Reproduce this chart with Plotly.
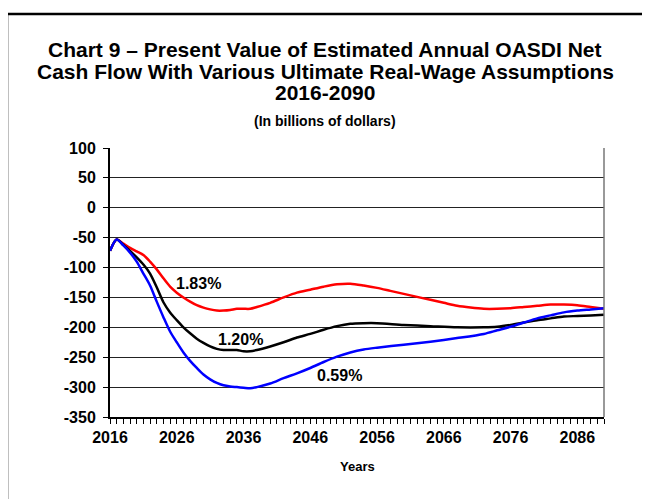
import plotly.graph_objects as go

years_red = [2016, 2017, 2018, 2019, 2020, 2021, 2022, 2023, 2024, 2025, 2026, 2027, 2028, 2029, 2030,
             2031, 2032, 2033, 2034, 2035, 2036, 2037, 2038, 2040, 2042, 2044, 2046, 2048, 2050, 2052,
             2054, 2056, 2058, 2060, 2062, 2064, 2066, 2068, 2070, 2072, 2074, 2076, 2078, 2080, 2082,
             2084, 2086, 2088, 2090]
red_183 = [-72, -53, -60, -67, -73, -79, -90, -103, -118, -132, -142, -150, -157, -163, -167,
           -170, -172, -172, -171, -169, -169, -169, -166, -159, -150, -142, -137, -132, -128, -127,
           -130, -134, -139, -144, -149, -154, -159, -164, -167, -169, -169, -168, -166, -164, -162,
           -162, -163, -166, -169]

years_blk = [2016, 2017, 2018, 2019, 2020, 2021, 2022, 2023, 2024, 2025, 2026, 2027, 2028, 2029, 2030,
             2031, 2032, 2033, 2034, 2035, 2036, 2037, 2038, 2040, 2042, 2044, 2046, 2048, 2050, 2052,
             2054, 2056, 2060, 2064, 2068, 2072, 2074, 2076, 2078, 2080, 2082, 2084, 2086, 2088, 2090]
black_120 = [-72, -53, -62, -72, -83, -95, -110, -133, -158, -175, -188, -200, -210, -219, -226,
             -232, -236, -238, -238, -238, -240, -240, -238, -232, -225, -217, -211, -204, -198, -194,
             -193, -193, -196, -198, -200, -200, -199, -196, -192, -188, -185, -182, -181, -180, -179]

years_blu = [2016, 2017, 2018, 2019, 2020, 2021, 2022, 2023, 2024, 2025, 2026, 2027, 2028, 2029, 2030,
             2031, 2032, 2033, 2034, 2035, 2036, 2037, 2038, 2040, 2042, 2044, 2046, 2048, 2050, 2052,
             2054, 2056, 2060, 2064, 2068, 2072, 2074, 2076, 2078, 2080, 2082, 2084, 2086, 2088, 2090]
blue_059 = [-72, -53, -63, -75, -90, -110, -130, -157, -183, -207, -225, -242, -256, -268, -279,
            -287, -293, -297, -299, -300, -301, -302, -300, -294, -285, -277, -268, -258, -249, -242,
            -237, -234, -229, -224, -218, -211, -205, -199, -192, -185, -180, -175, -172, -170, -168]

x_ticks = [2016, 2026, 2036, 2046, 2056, 2066, 2076, 2086]
y_ticks = [100, 50, 0, -50, -100, -150, -200, -250, -300, -350]

labels = ["1.83%", "1.20%", "0.59%"]
label_x = [2029.3, 2035.5, 2050.4]
label_y = [-126, -221, -281]

FONT = "Liberation Sans, Arial, sans-serif"
OFF = 8  # page body margin
W, H = 642, 491
L, T = 110 - OFF, 148 - OFF
pw, ph = 494, 269
R, B = W - L - pw, H - T - ph

def px(xp):
    return (xp - OFF - L) / pw

def py(yp):
    return (T + ph - (yp - OFF)) / ph

fig = go.Figure()
for xs, ys, c in [(years_red, red_183, "#FF0000"), (years_blk, black_120, "#000000"),
                  (years_blu, blue_059, "#0000FF")]:
    fig.add_trace(go.Scatter(x=xs, y=ys, mode="lines",
                             line=dict(color=c, width=2.5, shape="spline", smoothing=0.8),
                             showlegend=False, hoverinfo="skip"))

annotations = []
title_lines = [
    ("Chart 9 – Present Value of Estimated Annual OASDI Net", 49, 21),
    ("Cash Flow With Various Ultimate Real-Wage Assumptions", 71, 21),
    ("2016-2090", 93, 21),
    ("(In billions of dollars)", 121, 14),
]
for txt, yc, fs in title_lines:
    annotations.append(dict(text="<b>%s</b>" % txt, xref="paper", yref="paper",
                            x=px(325), y=py(yc), xanchor="center", yanchor="middle",
                            showarrow=False, font=dict(family=FONT, size=fs, color="#000")))
for t, lx, ly in zip(labels, label_x, label_y):
    annotations.append(dict(text="<b>%s</b>" % t, x=lx, y=ly, xref="x", yref="y",
                            showarrow=False, xanchor="center", yanchor="middle",
                            font=dict(family=FONT, size=16, color="#000")))
annotations.append(dict(text="<b>Years</b>", xref="paper", yref="paper", x=px(357), y=py(466),
                        xanchor="center", yanchor="middle", showarrow=False,
                        font=dict(family=FONT, size=13, color="#000")))

shapes = [
    dict(type="line", xref="paper", yref="paper", x0=px(7), x1=px(680), y0=py(14), y1=py(14),
         line=dict(color="#000", width=2.5)),
    dict(type="line", xref="paper", yref="paper", x0=px(7), x1=px(7), y0=py(14), y1=py(520),
         line=dict(color="#000", width=2.5)),
    dict(type="line", xref="paper", yref="paper", x0=1, x1=1, y0=0, y1=1,
         line=dict(color="#777", width=1.5)),
]

fig.update_layout(
    width=W, height=H, margin=dict(l=L, r=R, t=T, b=B),
    paper_bgcolor="white", plot_bgcolor="white",
    font=dict(family=FONT, color="#000"),
    annotations=annotations, shapes=shapes,
    xaxis=dict(range=[2016, 2090], tickvals=x_ticks, ticktext=[str(v) for v in x_ticks],
               ticks="outside", ticklen=5, tickwidth=1, tickcolor="#000",
               minor=dict(dtick=1, tick0=2016, ticks="outside", ticklen=5, tickwidth=1, tickcolor="#000"),
               showgrid=False, zeroline=False, showline=True, linecolor="#000", linewidth=2,
               tickfont=dict(family=FONT, size=16, color="#000", weight="bold")),
    yaxis=dict(range=[-350, 100], tickvals=y_ticks, ticktext=[str(v) for v in y_ticks],
               ticks="outside", ticklen=5, tickwidth=1, tickcolor="#000", ticklabelstandoff=4,
               showgrid=True, gridcolor="#222", gridwidth=1.2, zeroline=False,
               showline=True, linecolor="#000", linewidth=2,
               tickfont=dict(family=FONT, size=16, color="#000", weight="bold")),
)

fig.write_html("out.html")
